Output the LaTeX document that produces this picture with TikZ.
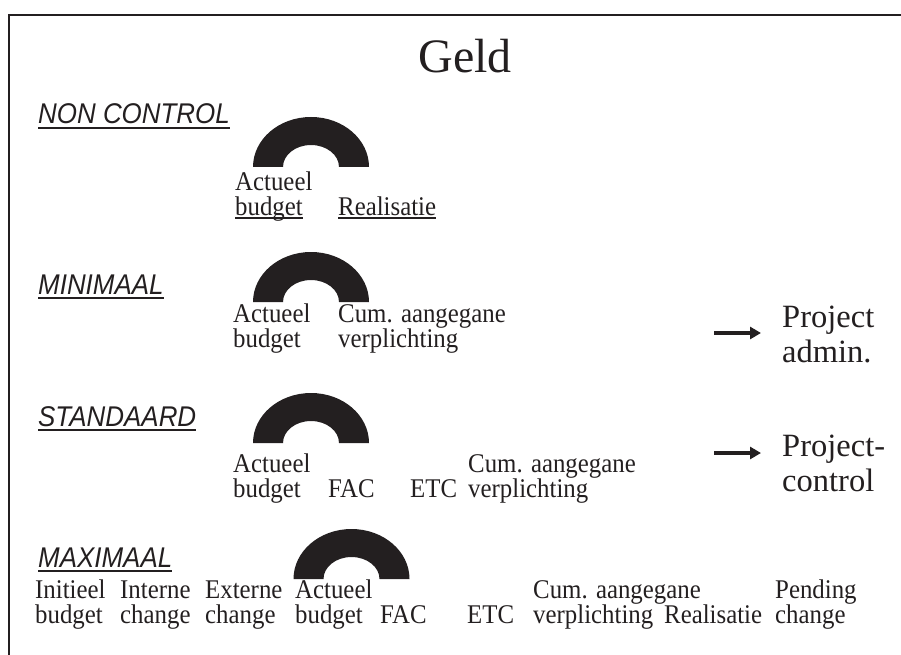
\documentclass[tikz,border=0pt]{standalone}
\usepackage{fontspec}
\setmainfont{Liberation Serif}
\newfontfamily\bodyfont[FakeStretch=0.92]{Liberation Serif}
\newfontfamily\headfont[FakeStretch=0.91]{Liberation Sans}
\usetikzlibrary{arrows.meta}
\definecolor{ink}{RGB}{35,31,32}
% word with a rule just below its baseline
\newcommand\ulword[1]{\setbox0\hbox{#1}\rlap{\rule[-3.5pt]{\wd0}{1.2pt}}\box0}
% multi-line nodes are anchored on the baseline of their last line
\tikzset{
  cell/.style={anchor=base west, inner sep=0pt, align=left,
    font=\bodyfont\fontsize{27}{25}\selectfont, text=ink},
  tier/.style={anchor=base west, inner sep=0pt,
    font=\headfont\itshape\fontsize{28.5}{28}\selectfont, text=ink},
  dest/.style={anchor=base west, inner sep=0pt, align=left,
    font=\fontsize{32.5}{35}\selectfont, text=ink},
  uline/.style={draw=ink, line width=1.5pt},
  pointer/.style={draw=ink, line width=3.5pt, -{Triangle[length=11pt,width=12pt]}},
  frame/.style={draw=ink, line width=2pt},
  pics/halfring/.style={code={
    \fill[ink] (-58pt,0pt) arc[start angle=180, end angle=0, x radius=58pt, y radius=50pt]
      -- (28pt,0pt) arc[start angle=0, end angle=180, x radius=28pt, y radius=22pt] -- cycle;}}
}
\begin{document}
\begin{tikzpicture}[x=1pt, y=-1pt]
  \useasboundingbox (0,0) rectangle (901,655);
  \fill[white] (0,0) rectangle (901,655);
  \draw[frame] (9,655) -- (9,15) -- (901,15);

  \node[anchor=base, inner sep=0pt, font=\fontsize{48}{48}\selectfont, text=ink] (title) at (465,73) {Geld};

  % non control
  \node[tier] (h1) at (38,124) {NON CONTROL};
  \draw[uline] ([yshift=-4pt]h1.base west) -- ([yshift=-4pt]h1.base east);
  \pic at (311,167) {halfring};
  \node[cell] (n1) at (235,215) {Actueel\\\ulword{budget}};
  \node[cell] (n2) at (338,215) {\ulword{Realisatie}};

  % minimaal
  \node[tier] (h2) at (38,294) {MINIMAAL};
  \draw[uline] ([yshift=-4pt]h2.base west) -- ([yshift=-4pt]h2.base east);
  \pic at (311,302) {halfring};
  \node[cell] (m1) at (233,347) {Actueel\\budget};
  \node[cell] (m2) at (338,347) {Cum. aangegane\\verplichting};
  \coordinate (m3s) at (714,333);
  \coordinate (m3e) at (761,333);
  \draw[pointer] (m3s) -- (m3e);
  \node[dest] (m4) at (782,362) {Project\\admin.};

  % standaard
  \node[tier] (h3) at (38,426) {STANDAARD};
  \draw[uline] ([yshift=-4pt]h3.base west) -- ([yshift=-4pt]h3.base east);
  \pic at (311,443) {halfring};
  \node[cell] (s1) at (233,497) {Actueel\\budget};
  \node[cell] (s2) at (328,497) {FAC};
  \node[cell] (s3) at (410,497) {ETC};
  \node[cell] (s4) at (468,497) {Cum. aangegane\\verplichting};
  \coordinate (s5s) at (714,453);
  \coordinate (s5e) at (761,453);
  \draw[pointer] (s5s) -- (s5e);
  \node[dest] (s6) at (782,491) {Project-\\control};

  % maximaal
  \node[tier] (h4) at (38,567) {MAXIMAAL};
  \draw[uline] ([yshift=-4pt]h4.base west) -- ([yshift=-4pt]h4.base east);
  \pic at (351.5,579) {halfring};
  \node[cell] (x1) at (35,623) {Initieel\\budget};
  \node[cell] (x2) at (120,623) {Interne\\change};
  \node[cell] (x3) at (205,623) {Externe\\change};
  \node[cell] (x4) at (295,623) {Actueel\\budget};
  \node[cell] (x5) at (380,623) {FAC};
  \node[cell] (x6) at (467,623) {ETC};
  \node[cell] (x7) at (533,623) {Cum. aangegane\\verplichting};
  \node[cell] (x8) at (664,623) {Realisatie};
  \node[cell] (x9) at (775,623) {Pending\\change};
\end{tikzpicture}
\end{document}
